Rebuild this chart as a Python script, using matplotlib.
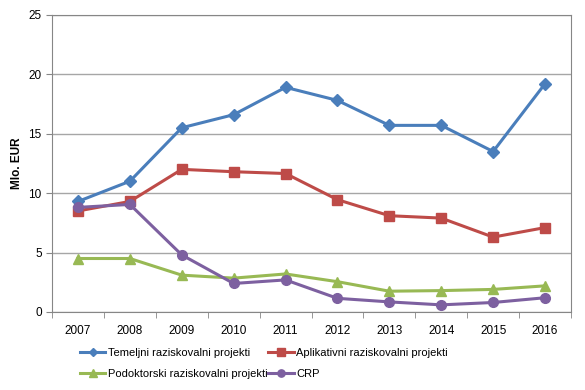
import numpy as np
import matplotlib.pyplot as plt

plt.rcParams['font.family'] = ['Liberation Sans', 'DejaVu Sans']

years = ['2007', '2008', '2009', '2010', '2011', '2012', '2013', '2014', '2015', '2016']
temeljni = [9.3, 11.0, 15.5, 16.6, 18.9, 17.8, 15.7, 15.7, 13.5, 19.2]
aplikativni = [8.5, 9.3, 12.0, 11.8, 11.65, 9.45, 8.1, 7.9, 6.3, 7.1]
podoktorski = [4.5, 4.5, 3.1, 2.85, 3.2, 2.55, 1.75, 1.8, 1.9, 2.2]
crp = [8.8, 9.05, 4.8, 2.4, 2.7, 1.15, 0.85, 0.6, 0.8, 1.2]

fig = plt.figure(figsize=(5.85, 3.9), dpi=100)
ax = fig.add_axes([0.089, 0.2, 0.887, 0.762])

x = np.arange(len(years))
l1, = ax.plot(x, temeljni, color='#4A7EBB', marker='D', ms=6, lw=2.2,
              label='Temeljni raziskovalni projekti')
l2, = ax.plot(x, aplikativni, color='#BE4B48', marker='s', ms=7, lw=2.2,
              label='Aplikativni raziskovalni projekti')
l3, = ax.plot(x, podoktorski, color='#98B954', marker='^', ms=7.5, lw=2.2,
              label='Podoktorski raziskovalni projekti')
l4, = ax.plot(x, crp, color='#7D60A0', marker='o', ms=7, lw=2.2, label='CRP')

ax.set_xlim(-0.5, len(years) - 0.5)
ax.set_ylim(0, 25)
ax.set_yticks([0, 5, 10, 15, 20, 25])
ax.set_xticks(x)
ax.set_xticklabels(years)
ax.set_xticks(np.arange(-0.5, len(years)), minor=True)
ax.tick_params(axis='x', which='major', length=0, pad=9, labelsize=8.5)
ax.tick_params(axis='x', which='minor', length=4, color='#868686')
ax.tick_params(axis='y', length=4, color='#868686', labelsize=8.5)
ax.grid(axis='y', color='#A6A6A6', lw=1)
ax.set_axisbelow(True)
for s in ax.spines.values():
    s.set_color('#868686')
ax.set_ylabel('Mlo. EUR', fontweight='bold', fontsize=8.5, labelpad=4)

# row-wise order like the original
handles = [l1, l3, l2, l4]
ax.legend(handles, [h.get_label() for h in handles], loc='upper left',
          bbox_to_anchor=(0.045, -0.105), ncol=2, frameon=False,
          fontsize=8, handlelength=2.3, columnspacing=0.1, handletextpad=0.2,
          labelspacing=1.05, markerscale=0.75, borderaxespad=0)

fig.savefig('out.png')
